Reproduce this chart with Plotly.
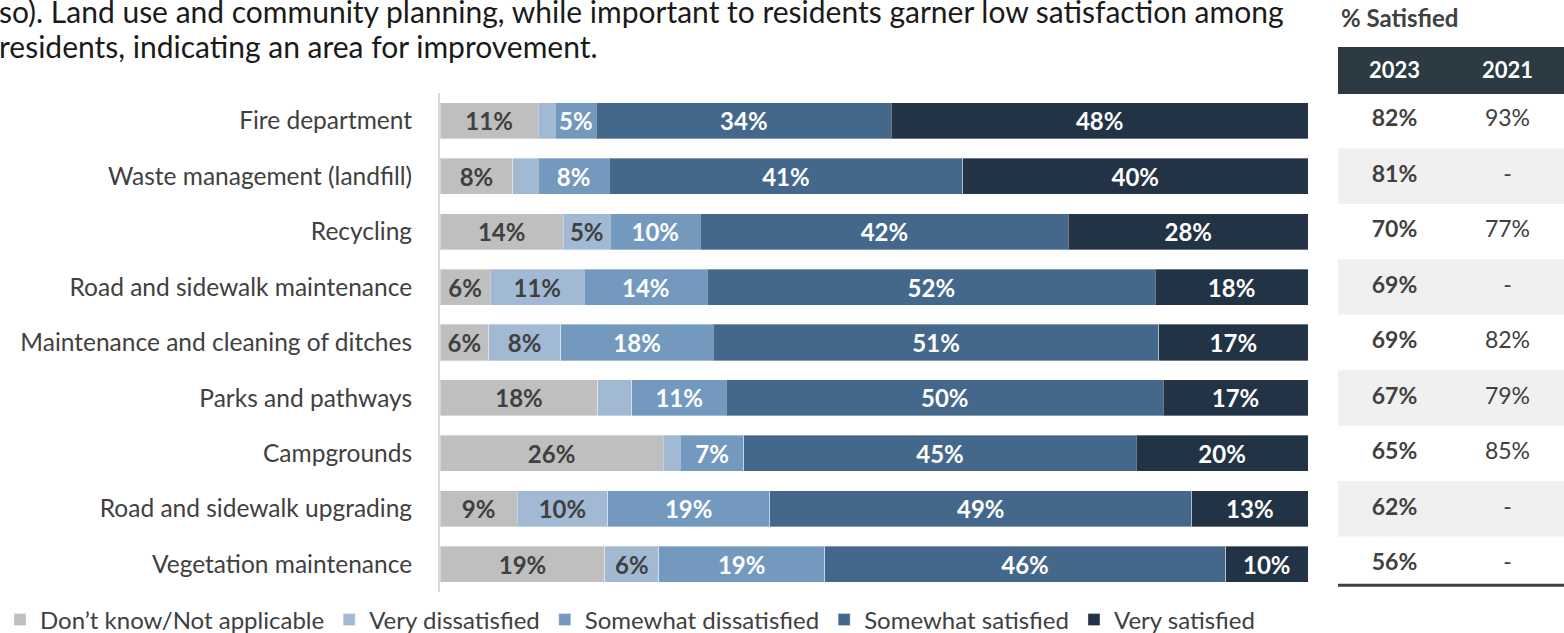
import plotly.graph_objects as go

categories = [
    "Fire department",
    "Waste management (landfill)",
    "Recycling",
    "Road and sidewalk maintenance",
    "Maintenance and cleaning of ditches",
    "Parks and pathways",
    "Campgrounds",
    "Road and sidewalk upgrading",
    "Vegetation maintenance",
]
dont_know = [11.3, 8.4, 14.2, 5.8, 5.6, 18.2, 25.7, 8.9, 19.0]
very_dissatisfied = [2.0, 2.9, 5.4, 10.8, 8.3, 3.9, 2.0, 10.4, 6.2]
somewhat_dissatisfied = [4.7, 8.2, 10.4, 14.2, 17.6, 10.9, 7.3, 18.7, 19.1]
somewhat_satisfied = [34.0, 40.7, 42.4, 51.6, 51.3, 50.3, 45.2, 48.6, 46.2]
very_satisfied = [48.0, 39.8, 27.6, 17.6, 17.2, 16.7, 19.8, 13.4, 9.5]

satisfied_2023 = ["82%", "81%", "70%", "69%", "69%", "67%", "65%", "62%", "56%"]
satisfied_2021 = ["93%", "-", "77%", "-", "82%", "79%", "85%", "-", "-"]

series = [
    ("Don’t know/Not applicable", dont_know, "#bfbfbf", "#404040"),
    ("Very dissatisfied", very_dissatisfied, "#a1b9d3", "#404040"),
    ("Somewhat dissatisfied", somewhat_dissatisfied, "#7399bf", "#ffffff"),
    ("Somewhat satisfied", somewhat_satisfied, "#44688b", "#ffffff"),
    ("Very satisfied", very_satisfied, "#223345", "#ffffff"),
]

FONT = "Lato"
W, H = 1564, 633
x0_px, x1_px = 440, 1308
y_top_px, y_bot_px = 93, 592

fig = go.Figure()
for name, vals, color, tcolor in series:
    labels = [f"{round(v)}%" if v >= 4.5 else "" for v in vals]
    fig.add_trace(go.Bar(
        y=categories, x=vals, name=name, orientation="h",
        marker=dict(color=color, line=dict(color="rgba(255,255,255,0.35)", width=1)),
        text=labels, textposition="inside", insidetextanchor="middle",
        textangle=0, constraintext="none",
        textfont=dict(family=FONT, size=24, color=tcolor, weight="bold"),
        hoverinfo="skip",
    ))

# table text
fig.add_trace(go.Scatter(
    x=[0.5] * len(categories), y=categories, mode="text", text=satisfied_2023,
    textfont=dict(family=FONT, size=23, color="#404040", weight="bold"),
    xaxis="x2", yaxis="y", showlegend=False, hoverinfo="skip",
))
fig.add_trace(go.Scatter(
    x=[1.5] * len(categories), y=categories, mode="text", text=satisfied_2021,
    textfont=dict(family=FONT, size=23, color="#404040"),
    xaxis="x2", yaxis="y", showlegend=False, hoverinfo="skip",
))

shapes = []
# alternating row backgrounds
for i in range(len(categories)):
    if i % 2 == 1:
        shapes.append(dict(type="rect", xref="x2 domain", x0=0, x1=1, yref="y",
                           y0=i - 0.5, y1=i + 0.5, fillcolor="#f0f0f0",
                           line=dict(width=0), layer="below"))
# header
shapes.append(dict(type="rect", xref="x2 domain", x0=0, x1=1, yref="paper",
                   y0=1 - 94 / H, y1=1 - 47 / H, fillcolor="#2b3a43", line=dict(width=0)))
# bottom rule
shapes.append(dict(type="line", xref="x2 domain", x0=0, x1=1, yref="y",
                   y0=8.38, y1=8.38, line=dict(color="#404040", width=3)))

annotations = [
    dict(text="% Satisfied", xref="paper", yref="paper", x=1339 / W, y=1 - 18 / H,
         xanchor="left", yanchor="middle", showarrow=False,
         font=dict(family=FONT, size=24, color="#404040", weight="bold")),
    dict(text="2023", xref="x2", yref="paper", x=0.5, y=1 - 70 / H,
         xanchor="center", yanchor="middle", showarrow=False,
         font=dict(family=FONT, size=22, color="#ffffff", weight="bold")),
    dict(text="2021", xref="x2", yref="paper", x=1.5, y=1 - 70 / H,
         xanchor="center", yanchor="middle", showarrow=False,
         font=dict(family=FONT, size=22, color="#ffffff", weight="bold")),
    dict(text="so). Land use and community planning, while important to residents garner low satisfaction among",
         xref="paper", yref="paper", x=-3 / W, y=1 - 11 / H, xanchor="left", yanchor="middle",
         showarrow=False, font=dict(family=FONT, size=30, color="#1a1a1a")),
    dict(text="residents, indicating an area for improvement.",
         xref="paper", yref="paper", x=-3 / W, y=1 - 46 / H, xanchor="left", yanchor="middle",
         showarrow=False, font=dict(family=FONT, size=30, color="#1a1a1a")),
]

fig.update_layout(
    width=W, height=H,
    margin=dict(l=0, r=0, t=0, b=0, autoexpand=False),
    paper_bgcolor="white", plot_bgcolor="white",
    barmode="stack", bargap=0.35,
    font=dict(family=FONT, size=24, color="#404040"),
    xaxis=dict(domain=[x0_px / W, x1_px / W], range=[0, 100], visible=False, fixedrange=True),
    xaxis2=dict(domain=[1338 / W, 1.0], range=[0, 2], visible=False, anchor="y"),
    yaxis=dict(domain=[1 - y_bot_px / H, 1 - y_top_px / H], autorange="reversed",
               type="category", showline=True, linecolor="#d9d9d9", linewidth=2,
               showgrid=False, ticks="", ticklabelstandoff=21,
               tickfont=dict(family=FONT, size=24.5, color="#404040")),
    legend=dict(orientation="h", x=0, y=1 - 620 / H, xanchor="left", yanchor="middle",
                font=dict(family=FONT, size=24, color="#404040"),
                traceorder="normal", itemwidth=30, bgcolor="rgba(0,0,0,0)"),
    shapes=shapes, annotations=annotations,
    showlegend=True,
)

fig.write_html("out.html")
